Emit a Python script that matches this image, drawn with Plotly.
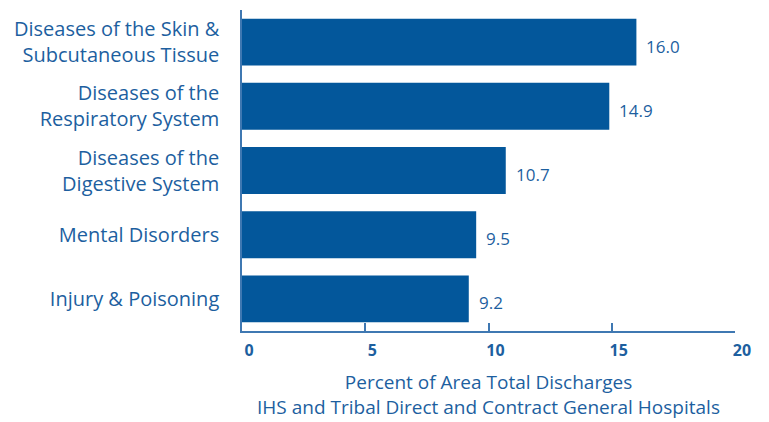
import plotly.graph_objects as go

categories = [
    "Injury & Poisoning",
    "Mental Disorders",
    "Diseases of the<br>Digestive System",
    "Diseases of the<br>Respiratory System",
    "Diseases of the Skin &<br>Subcutaneous Tissue",
]
values = [9.2, 9.5, 10.7, 14.9, 16.0]
value_labels = ["9.2", "9.5", "10.7", "14.9", "16.0"]
x_ticks = [0, 5, 10, 15, 20]
x_title = "Percent of Area Total Discharges<br>IHS and Tribal Direct and Contract General Hospitals"

BAR = "#03579b"
TXT = "#1d5f9f"
AX = "#3f78b2"
FONT = "Open Sans"

fig = go.Figure()
fig.add_trace(go.Bar(
    x=values, y=categories, orientation="h",
    marker=dict(color=BAR, line=dict(width=0)),
    hoverinfo="skip",
))
for v, c, t in zip(values, categories, value_labels):
    fig.add_annotation(x=v, y=c, text=t, showarrow=False, xanchor="left",
                       xshift=8, yshift=-4, font=dict(family=FONT, size=17, color=TXT))

fig.update_layout(
    width=769, height=422,
    margin=dict(l=242, r=34, t=10, b=91),
    paper_bgcolor="white", plot_bgcolor="white",
    bargap=0.27,
    showlegend=False,
    font=dict(family=FONT, color=TXT),
)
fig.update_xaxes(
    range=[0, 20], tickvals=x_ticks, ticktext=[f"<b>{t}</b>" for t in x_ticks],
    ticks="inside", ticklen=8, tickwidth=1.5, tickcolor=AX,
    showline=True, linecolor=AX, linewidth=1.5, showgrid=False, zeroline=False,
    tickfont=dict(family=FONT, size=16, color=TXT),
    ticklabelshift=7, ticklabelstandoff=4, automargin=False,
    title=dict(text=x_title, font=dict(family=FONT, size=19, color=TXT), standoff=16),
)
fig.update_yaxes(
    showline=True, linecolor=AX, linewidth=1.5, showgrid=False, zeroline=False,
    ticks="", ticklabelstandoff=17, automargin=False,
    tickfont=dict(family=FONT, size=20, color=TXT),
)
fig.write_html("out.html")
